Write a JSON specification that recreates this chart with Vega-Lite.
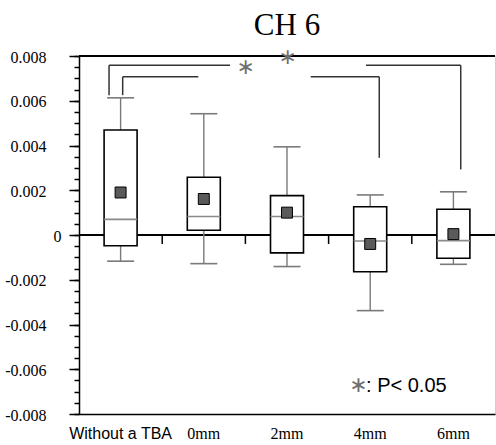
{
  "$schema": "https://vega.github.io/schema/vega-lite/v6.json",
  "width": 416,
  "height": 358,
  "autosize": {"type": "none"},
  "padding": {"left": 79, "top": 56, "right": 1, "bottom": 31},
  "background": "white",
  "title": {
    "text": "CH 6",
    "font": "Liberation Serif",
    "fontSize": 31,
    "fontWeight": "normal",
    "color": "black",
    "anchor": "middle",
    "baseline": "alphabetic",
    "offset": -20
  },
  "config": {
    "view": {"stroke": "#cfcfcf", "strokeWidth": 1},
    "axis": {"domainColor": "black", "tickColor": "black", "labelColor": "black", "grid": false, "title": null, "labelFont": "Liberation Serif", "labelFontSize": 16}
  },
  "resolve": {"scale": {"x": "independent"}, "axis": {"x": "independent", "y": "independent"}},
  "layer": [
    {
      "data": {
        "values": [
          {"group": "Without a TBA", "lower": -0.00117, "q1": -0.00048, "median": 0.0007, "q3": 0.00469, "upper": 0.00613, "mean": 0.0019},
          {"group": "0mm", "lower": -0.00128, "q1": 0.00021, "median": 0.00083, "q3": 0.00258, "upper": 0.00542, "mean": 0.00161},
          {"group": "2mm", "lower": -0.00141, "q1": -0.0008, "median": 0.00083, "q3": 0.00176, "upper": 0.00394, "mean": 0.001},
          {"group": "4mm", "lower": -0.00338, "q1": -0.00164, "median": -0.00027, "q3": 0.00126, "upper": 0.00179, "mean": -0.0004},
          {"group": "6mm", "lower": -0.00131, "q1": -0.00104, "median": -0.00025, "q3": 0.00115, "upper": 0.00193, "mean": 0.00004}
        ]
      },
      "encoding": {
        "x": {
          "field": "group",
          "type": "nominal",
          "scale": {"domain": ["Without a TBA", "0mm", "2mm", "4mm", "6mm"], "paddingInner": 0, "paddingOuter": 0},
          "axis": {
            "orient": "bottom",
            "title": null,
            "ticks": false,
            "domainWidth": 1.5,
            "labelAngle": 0,
            "labelFontSize": 16,
            "labelFont": {"condition": {"test": "datum.value === 'Without a TBA'", "value": "Liberation Sans"}, "value": "Liberation Serif"},
            "labelPadding": 11,
            "labelDx": -6,
            "labelOverlap": false,
            "labelBound": false
          }
        }
      },
      "layer": [
        {
          "mark": {"type": "rule", "color": "black", "strokeWidth": 1.5},
          "encoding": {
            "x": null,
            "y": {"datum": 0.008, "type": "quantitative", "axis": null, "scale": {"domain": [-0.008, 0.008], "nice": false, "zero": false}}
          }
        },
        {
          "mark": {"type": "rule", "color": "black", "strokeWidth": 1.5},
          "encoding": {
            "x": null,
            "y": {"datum": 0, "type": "quantitative", "axis": null}
          }
        },
        {
          "transform": [{"filter": "datum.group !== 'Without a TBA'"}],
          "mark": {"type": "rule", "color": "black", "strokeWidth": 1.5},
          "encoding": {
            "x": {"field": "group", "type": "nominal", "bandPosition": 0},
            "y": {"datum": 0, "type": "quantitative", "axis": null},
            "y2": {"datum": -0.0004}
          }
        },
        {
          "mark": {"type": "rule", "color": "#7a7a7a", "strokeWidth": 1.4},
          "encoding": {
            "y": {"field": "lower", "type": "quantitative", "axis": null},
            "y2": {"field": "upper"}
          }
        },
        {
          "mark": {"type": "tick", "color": "#7a7a7a", "size": 27, "thickness": 1.6, "opacity": 1},
          "encoding": {"y": {"field": "upper", "type": "quantitative", "axis": null}}
        },
        {
          "mark": {"type": "tick", "color": "#7a7a7a", "size": 27, "thickness": 1.6, "opacity": 1},
          "encoding": {"y": {"field": "lower", "type": "quantitative", "axis": null}}
        },
        {
          "mark": {"type": "bar", "size": 33, "fill": "white", "stroke": "black", "strokeWidth": 1.6},
          "encoding": {
            "y": {"field": "q1", "type": "quantitative", "axis": null},
            "y2": {"field": "q3"}
          }
        },
        {
          "mark": {"type": "tick", "color": "#8a8a8a", "size": 33, "thickness": 1.6, "opacity": 1},
          "encoding": {"y": {"field": "median", "type": "quantitative", "axis": null}}
        },
        {
          "mark": {"type": "point", "shape": "square", "size": 120, "filled": true, "fill": "#5a5a5a", "stroke": "black", "strokeWidth": 1, "opacity": 1},
          "encoding": {"y": {"field": "mean", "type": "quantitative", "axis": null}}
        }
      ]
    },
    {
      "data": {
        "values": [
          {"x": 0.361, "x2": 0.361, "y": 0.00625, "y2": 0.00759},
          {"x": 0.361, "x2": 1.815, "y": 0.00759, "y2": 0.00759},
          {"x": 3.45, "x2": 4.588, "y": 0.00759, "y2": 0.00759},
          {"x": 4.588, "x2": 4.588, "y": 0.00759, "y2": 0.00293},
          {"x": 0.525, "x2": 0.525, "y": 0.00625, "y2": 0.00707},
          {"x": 0.525, "x2": 1.434, "y": 0.00707, "y2": 0.00707},
          {"x": 2.785, "x2": 3.609, "y": 0.00707, "y2": 0.00707},
          {"x": 3.609, "x2": 3.609, "y": 0.00707, "y2": 0.00345}
        ]
      },
      "mark": {"type": "rule", "color": "#333333", "strokeWidth": 1.5},
      "encoding": {
        "x": {"field": "x", "type": "quantitative", "scale": {"domain": [0, 5], "nice": false, "zero": false}, "axis": null},
        "x2": {"field": "x2"},
        "y": {
          "field": "y",
          "type": "quantitative",
          "axis": {
            "orient": "left",
            "values": [-0.008, -0.006, -0.004, -0.002, 0, 0.002, 0.004, 0.006, 0.008],
            "tickSize": 10,
            "tickWidth": 1.5,
            "domain": true,
            "domainWidth": 1.5,
            "labelFont": "Liberation Serif",
            "labelFontSize": 16,
            "labelOffset": 1,
            "labelPadding": {"condition": {"test": "datum.value === 0", "value": 8}, "value": 23},
            "labelExpr": "replace(format(datum.value, '.3~f'), '\u2212', '-')",
            "title": null
          }
        },
        "y2": {"field": "y2"}
      }
    },
    {
      "data": {
        "values": [
          {"x": 2.004, "y": 0.0075, "label": "∗"},
          {"x": 2.508, "y": 0.00795, "label": "∗"},
          {"x": 3.36, "y": -0.0067, "label": "∗"}
        ]
      },
      "mark": {"type": "text", "font": "DejaVu Sans", "fontSize": 22, "color": "#707070", "align": "center", "baseline": "middle"},
      "encoding": {
        "x": {"field": "x", "type": "quantitative", "scale": {"domain": [0, 5], "nice": false, "zero": false}, "axis": null},
        "y": {
          "field": "y",
          "type": "quantitative",
          "axis": {
            "orient": "left",
            "values": [-0.008, -0.0075, -0.007, -0.0065, -0.006, -0.0055, -0.005, -0.0045, -0.004, -0.0035, -0.003, -0.0025, -0.002, -0.0015, -0.001, -0.0005, 0, 0.0005, 0.001, 0.0015, 0.002, 0.0025, 0.003, 0.0035, 0.004, 0.0045, 0.005, 0.0055, 0.006, 0.0065, 0.007, 0.0075, 0.008],
            "labels": false,
            "domain": false,
            "tickSize": 5,
            "tickWidth": 1.5,
            "title": null
          }
        },
        "text": {"field": "label"}
      }
    },
    {
      "data": {"values": [{"x": 3.45, "y": -0.00701, "label": ": P< 0.05"}]},
      "mark": {"type": "text", "font": "Liberation Sans", "fontSize": 20, "color": "black", "align": "left", "baseline": "alphabetic"},
      "encoding": {
        "x": {"field": "x", "type": "quantitative", "scale": {"domain": [0, 5], "nice": false, "zero": false}, "axis": null},
        "y": {"field": "y", "type": "quantitative", "axis": null},
        "text": {"field": "label"}
      }
    }
  ]
}
